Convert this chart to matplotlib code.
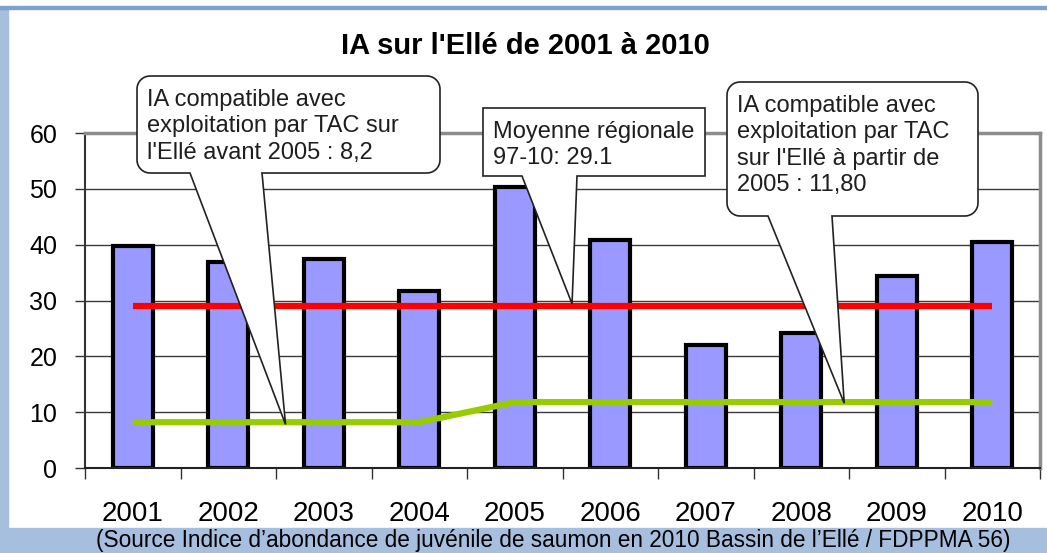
import numpy as np
import matplotlib
matplotlib.use('Agg')
import matplotlib.pyplot as plt
from matplotlib.patches import Polygon, Rectangle
from matplotlib.transforms import Affine2D

plt.rcParams['font.family'] = ['Liberation Sans', 'DejaVu Sans']

years = ['2001', '2002', '2003', '2004', '2005', '2006', '2007', '2008', '2009', '2010']
ia_values = [39.8, 36.9, 37.4, 31.7, 50.3, 40.8, 22.0, 24.2, 34.3, 40.4]
regional_mean = [29.1, 29.1, 29.1, 29.1, 29.1, 29.1, 29.1, 29.1, 29.1, 29.1]
tac_values = [8.2, 8.2, 8.2, 8.2, 11.8, 11.8, 11.8, 11.8, 11.8, 11.8]

title = "IA sur l'Ellé de 2001 à 2010"
source = "(Source Indice d\u2019abondance de juvénile de saumon en 2010 Bassin de l\u2019Ellé / FDPPMA 56)"

# callouts: text, box (x0, y0, x1, y1) in pixels, base of tail, radius, tip (year index, value)
callouts = [
    ("IA compatible avec\nexploitation par TAC sur\nl'Ellé avant 2005 : 8,2",
     (137, 76, 440, 173), (190, 262), 13, (1.6, 7.8)),
    ("Moyenne régionale\n97-10: 29.1",
     (483, 108, 705, 176), (522, 577), 0, (4.6, 29.4)),
    ("IA compatible avec\nexploitation par TAC\nsur l'Ellé à partir de\n2005 : 11,80",
     (727, 82, 978, 216), (768, 832), 13, (7.45, 11.6)),
]

W, H = 1047, 553
fig = plt.figure(figsize=(W / 100, H / 100), dpi=100)
fig.patch.set_facecolor('white')
pix = Affine2D().scale(1 / W, -1 / H).translate(0, 1) + fig.transFigure

# cadre bleu
band = '#a7bfde'
fig.add_artist(Rectangle((0, 9), 8, H - 9, color=band, transform=pix, zorder=-5))
fig.add_artist(Rectangle((0, 528), W, 25, color=band, transform=pix, zorder=-5))
fig.add_artist(Rectangle((0, 6), W, 3, color='#7ca0d0', transform=pix, zorder=-5))

ax = fig.add_axes([85 / W, 1 - 468 / H, (1040 - 85) / W, (468 - 133) / H])
x = np.arange(len(years))

ax.bar(x, ia_values, width=0.42, color='#9999ff', edgecolor='black', linewidth=3, zorder=2)
ax.plot(x, regional_mean, color='#ff0000', linewidth=4.5, solid_capstyle='butt', zorder=3)
ax.plot(x, tac_values, color='#99cc00', linewidth=4.5, solid_capstyle='butt', zorder=3)

ax.set_xlim(-0.5, len(years) - 0.5)
ax.set_ylim(0, 60)
ax.set_yticks(range(0, 61, 10))
ax.yaxis.grid(True, color='#3a3a3a', linewidth=1.0, zorder=0)
ax.set_axisbelow(True)
ax.tick_params(axis='y', direction='out', length=7, width=1, color='#333333',
               labelsize=18, pad=13)

ax.set_xticks(x)
ax.set_xticklabels(years)
ax.set_xticks(np.arange(-0.5, len(years)), minor=True)
ax.tick_params(axis='x', which='major', length=0, labelsize=20, pad=24)
ax.tick_params(axis='x', which='minor', direction='out', length=8, width=1, color='#333333')

ax.spines['left'].set_color('#333333')
ax.spines['left'].set_linewidth(1.5)
ax.spines['bottom'].set_color('#222222')
ax.spines['bottom'].set_linewidth(1.5)
ax.spines['top'].set_color('#8c8c8c')
ax.spines['top'].set_linewidth(2.5)
ax.spines['right'].set_color('#8c8c8c')
ax.spines['right'].set_linewidth(2.5)

fig.text(525 / W, 1 - 46 / H, title, ha='center', va='center',
         fontsize=21, fontweight='bold')


def bubble(box, base, r, tip):
    x0, y0, x1, y1 = box
    pts = []
    def arc(cx, cy, a0, a1):
        if r == 0:
            pts.append((cx, cy))
            return
        for t in np.linspace(a0, a1, 10):
            pts.append((cx + r * np.cos(t), cy + r * np.sin(t)))
    arc(x1 - r, y0 + r, -np.pi / 2, 0)
    arc(x1 - r, y1 - r, 0, np.pi / 2)
    pts.append((base[1], y1))
    pts.append(tip)
    pts.append((base[0], y1))
    arc(x0 + r, y1 - r, np.pi / 2, np.pi)
    arc(x0 + r, y0 + r, np.pi, 1.5 * np.pi)
    return pts


for text, box, base, r, tip in callouts:
    d = ax.transData.transform(tip)
    tip_px = (d[0], H - d[1])
    fig.add_artist(Polygon(bubble(box, base, r, tip_px), closed=True, transform=pix,
                           facecolor='white', edgecolor='#222222', linewidth=1.2, zorder=5))
    fig.text(box[0] + 10, box[1] + 13, text, transform=pix, ha='left', va='top',
             fontsize=17, color='#1e1e1e', linespacing=1.26, zorder=6)

fig.text(553 / W, 1 - 541 / H, source, ha='center', va='center', fontsize=16.3, color='black')

fig.savefig('out.png', dpi=100)
